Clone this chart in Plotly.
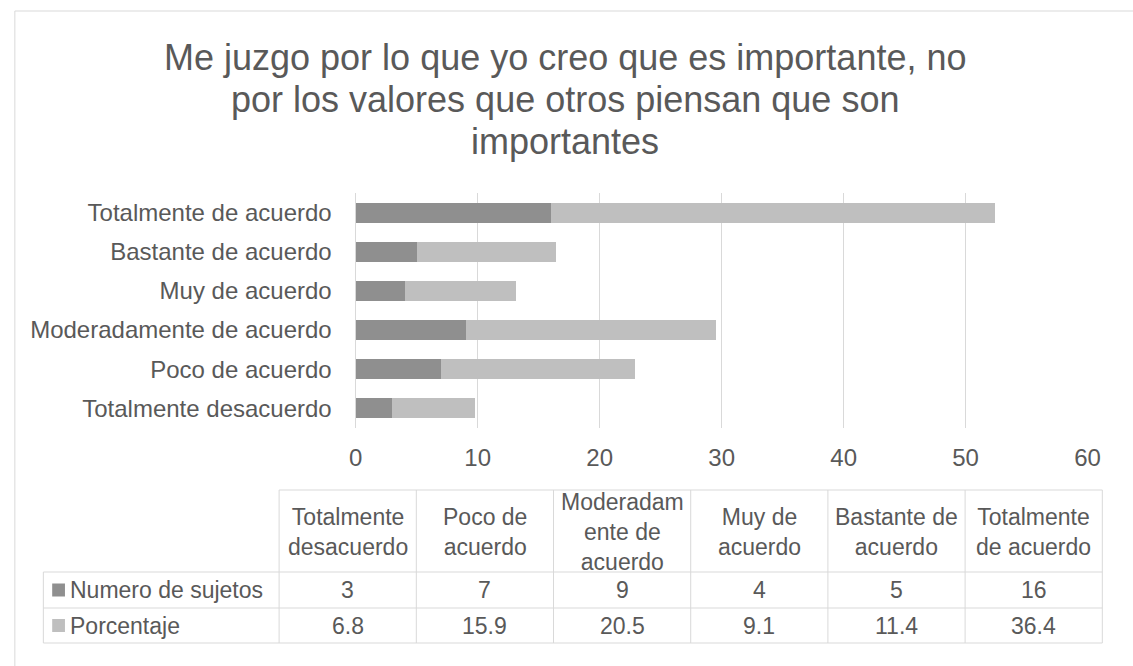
import plotly.graph_objects as go

# --- data ---
categorias = [
    "Totalmente desacuerdo",
    "Poco de acuerdo",
    "Moderadamente de acuerdo",
    "Muy de acuerdo",
    "Bastante de acuerdo",
    "Totalmente de acuerdo",
]
encabezados = [
    "Totalmente<br>desacuerdo",
    "Poco de<br>acuerdo",
    "Moderadam<br>ente de<br>acuerdo",
    "Muy de<br>acuerdo",
    "Bastante de<br>acuerdo",
    "Totalmente<br>de acuerdo",
]
numero_sujetos = [3, 7, 9, 4, 5, 16]
porcentaje = [6.8, 15.9, 20.5, 9.1, 11.4, 36.4]
series = ["Numero de sujetos", "Porcentaje"]
titulo = [
    "Me juzgo por lo que yo creo que es importante, no",
    "por los valores que otros piensan que son",
    "importantes",
]

# --- style ---
W, H = 1133, 666
FONT = "Liberation Sans, Arial, sans-serif"
TXT = "#595959"
GRID = "#d9d9d9"
COLORS = ["#8f8f8f", "#bfbfbf"]


def px(x):
    return x / W


def py(y):
    return 1 - y / H


fig = go.Figure()
for name, vals, col in zip(series, [numero_sujetos, porcentaje], COLORS):
    fig.add_trace(go.Bar(
        y=categorias, x=vals, name=name, orientation="h",
        marker=dict(color=col, line=dict(width=0)),
        showlegend=False,
    ))

fig.update_layout(
    width=W, height=H,
    margin=dict(l=0, r=0, t=0, b=0),
    paper_bgcolor="white", plot_bgcolor="white",
    barmode="stack", bargap=0.49,
    font=dict(family=FONT, color=TXT, size=24),
    xaxis=dict(
        domain=[px(355), px(1100)], range=[0, 60], dtick=10,
        showgrid=True, gridcolor=GRID, gridwidth=1,
        zeroline=True, zerolinecolor=GRID, zerolinewidth=1,
        showline=False, ticks="", ticklabelstandoff=13,
        tickfont=dict(size=24, color=TXT), fixedrange=True,
    ),
    yaxis=dict(
        domain=[py(428), py(193)], showgrid=False, zeroline=False,
        showline=False, ticks="", ticklabelstandoff=23,
        tickfont=dict(size=24, color=TXT), fixedrange=True,
    ),
)

shapes = []
annots = []

# outer chart frame (runs off the right and bottom edges, as in the source)
shapes.append(dict(type="rect", xref="paper", yref="paper",
                   x0=px(8), x1=1.05, y0=-0.05, y1=py(11),
                   line=dict(color=GRID, width=1), fillcolor="rgba(0,0,0,0)"))

# title, one annotation per line
for i, line in enumerate(titulo):
    annots.append(dict(text=line, xref="paper", yref="paper",
                       x=px(568), y=py(57 + 42 * i),
                       xanchor="center", yanchor="middle", showarrow=False,
                       font=dict(size=36, color=TXT, family=FONT)))

# --- data table below the chart ---
tab_left, tab_x0, tab_x1 = 37, 277, 1115
row_y = [490, 572, 608, 643]
ncol = len(categorias)
cw = (tab_x1 - tab_x0) / ncol
col_x = [tab_x0 + cw * i for i in range(ncol + 1)]

line_style = dict(color=GRID, width=1)
shapes.append(dict(type="line", xref="paper", yref="paper",
                   x0=px(tab_x0), x1=px(tab_x1), y0=py(row_y[0]), y1=py(row_y[0]),
                   line=line_style))
for y in row_y[1:]:
    shapes.append(dict(type="line", xref="paper", yref="paper",
                       x0=px(tab_left), x1=px(tab_x1), y0=py(y), y1=py(y),
                       line=line_style))
shapes.append(dict(type="line", xref="paper", yref="paper",
                   x0=px(tab_left), x1=px(tab_left), y0=py(row_y[1]), y1=py(row_y[3]),
                   line=line_style))
for x in col_x:
    shapes.append(dict(type="line", xref="paper", yref="paper",
                       x0=px(x), x1=px(x), y0=py(row_y[0]), y1=py(row_y[3]),
                       line=line_style))

tfont = dict(size=23, color=TXT, family=FONT)
for i, h in enumerate(encabezados):
    annots.append(dict(text=h, xref="paper", yref="paper",
                       x=px(col_x[i] + cw / 2), y=py((row_y[0] + row_y[1]) / 2 + 1),
                       xanchor="center", yanchor="middle", showarrow=False,
                       align="center", font=tfont))

for r, vals in enumerate([numero_sujetos, porcentaje]):
    yc = (row_y[r + 1] + row_y[r + 2]) / 2
    for i, v in enumerate(vals):
        annots.append(dict(text=str(v), xref="paper", yref="paper",
                           x=px(col_x[i] + cw / 2), y=py(yc),
                           xanchor="center", yanchor="middle", showarrow=False,
                           font=tfont))
    # legend key + series name
    shapes.append(dict(type="rect", xref="paper", yref="paper",
                       x0=px(46), x1=px(59), y0=py(yc + 6.5), y1=py(yc - 6.5),
                       line=dict(width=0), fillcolor=COLORS[r]))
    annots.append(dict(text=series[r], xref="paper", yref="paper",
                       x=px(62), y=py(yc), xanchor="left", yanchor="middle",
                       showarrow=False, font=tfont))

fig.update_layout(shapes=shapes, annotations=annots)
# drop the page's default body margin so the 1133x666 figure fills the window
fig.write_html(
    "out.html",
    config={"displayModeBar": False, "responsive": False},
    post_script="document.body.style.margin='0';document.body.style.overflow='hidden';",
)
